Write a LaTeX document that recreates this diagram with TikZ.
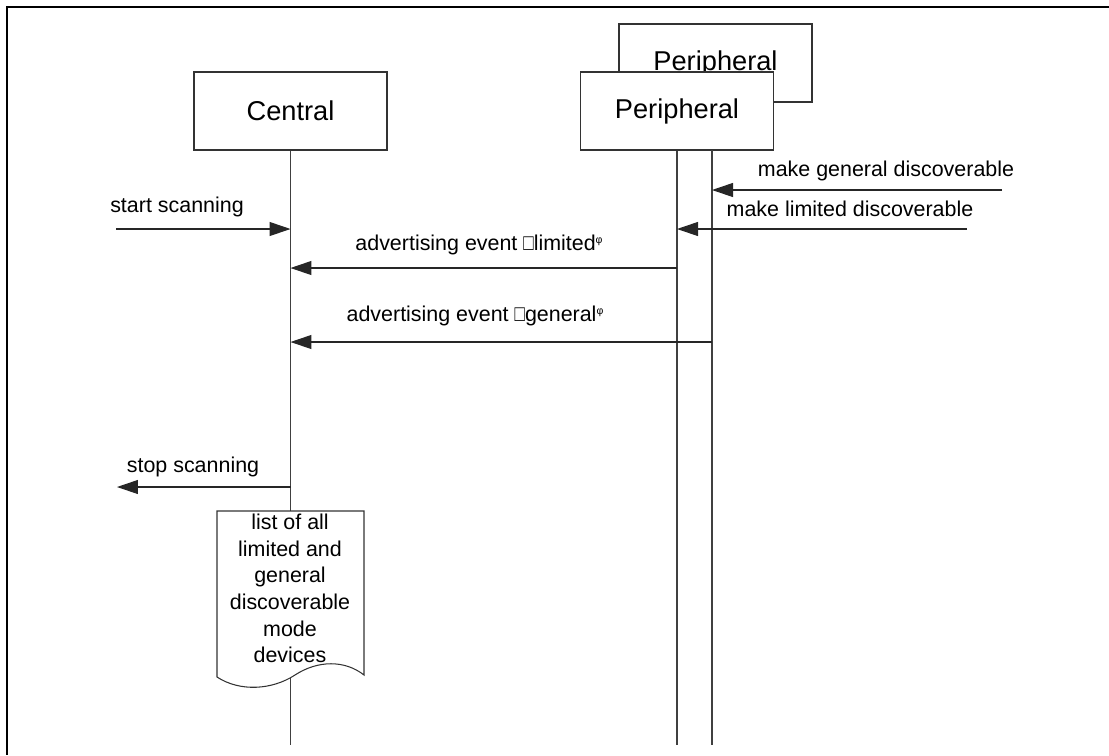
\documentclass[tikz,border=0pt]{standalone}
\usepackage{fontspec}
\setmainfont{Liberation Sans}
\usetikzlibrary{arrows.meta,positioning}

\begin{document}
\begin{tikzpicture}[x=0.02cm, y=-0.02cm,
    actor/.style={draw=black!80, fill=white, minimum width=3.86cm, minimum height=1.56cm, font=\fontsize{15.5}{18}\selectfont, line width=0.6pt},
    life/.style={line width=0.6pt, black!75},
    msg/.style={-{Triangle[length=4.2mm, width=2.8mm]}, line width=0.6pt, black!85},
    lbl/.style={anchor=base, inner sep=0pt, font=\fontsize{12.2}{14.6}\selectfont},
    doctext/.style={anchor=north, inner sep=0pt, align=center, font=\fontsize{12.2}{15.1}\selectfont}
]
\useasboundingbox (0,0) rectangle (1109,755);
\draw[line width=1.2pt] (1109,7) -- (7,7) -- (7,755);

% lifelines and boxes
\node[actor] (pB) at (715.5,63) {Peripheral};
\node[actor] (pA) at (677,111) {Peripheral};
\node[actor] (cen) at (290.5,111) {Central};
\coordinate (bot) at (0,745);
\coordinate (pBtop) at (712,150);
\draw[life] (cen.south) -- (cen.south |- bot);
\draw[life] (pA.south) -- (pA.south |- bot);
\draw[life] (pBtop) -- (pBtop |- bot);

% messages
\coordinate (genIn) at (1002,190);
\coordinate (limIn) at (967,229);
\coordinate (scanIn) at (116,229);
\coordinate (advL) at (677,268);
\coordinate (advG) at (712,342);
\coordinate (stopOut) at (117,487);
\draw[msg] (genIn) -- (genIn -| pBtop);
\draw[msg] (limIn) -- (limIn -| pA);
\draw[msg] (scanIn) -- (scanIn -| cen);
\draw[msg] (advL) -- (advL -| cen);
\draw[msg] (advG) -- (advG -| cen);
\draw[msg] (stopOut -| cen) -- (stopOut);

\node[lbl] (genL) at (886,176) {make general discoverable};
\node[lbl] (limL) at (850,216) {make limited discoverable};
\node[lbl] (scanL) at (177,212) {start scanning};
\node[lbl] (advLL) at (479,250) {advertising event \scalebox{0.75}[1]{\fontsize{13}{14}\selectfont □}limited\raisebox{.6ex}{\fontsize{6}{7}\selectfont φ}};
\node[lbl] (advGL) at (475,321) {advertising event \scalebox{0.75}[1]{\fontsize{13}{14}\selectfont □}general\raisebox{.6ex}{\fontsize{6}{7}\selectfont φ}};
\node[lbl] (stopL) at (193,472) {stop scanning};

% device list
\draw[fill=white, draw=black!80, line width=0.6pt] (217,511) -- (364,511) -- (364,675)
    .. controls (345,660) and (318,660) .. (295,675)
    .. controls (272,690) and (240,692) .. (217,677) -- cycle;
\node[doctext] (devs) at (290,514) {list of all\\limited and\\general\\discoverable\\mode\\devices};
\end{tikzpicture}
\end{document}
